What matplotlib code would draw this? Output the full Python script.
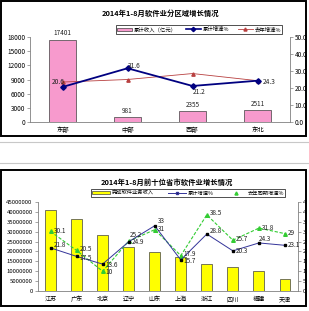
import matplotlib
matplotlib.use("Agg")
import matplotlib.pyplot as plt
from matplotlib.patches import Rectangle
from matplotlib.lines import Line2D

plt.rcParams['font.family'] = ['Noto Sans CJK SC', 'DejaVu Sans']

# ---- top chart data ----
regions = ['东部', '中部', '西部', '东北']
region_income = [17401, 981, 2355, 2511]
region_growth = [20.6, 31.6, 21.2, 24.3]
region_last_year = [23.5, 25.0, 28.5, 24.3]
top_left_ticks = [0, 3000, 6000, 9000, 12000, 15000, 18000]
top_right_ticks = [0, 10, 20, 30, 40, 50]

# ---- bottom chart data ----
provinces = ['江苏', '广东', '北京', '辽宁', '山东', '上海', '浙江', '四川', '福建', '天津']
prov_income = [40900000, 36500000, 28100000, 22300000, 19600000, 17400000,
               13700000, 12000000, 10200000, 6100000]
prov_growth = [21.8, 17.5, 13.6, 24.9, 33.0, 15.7, 28.8, 20.3, 24.3, 23.1]
prov_last_year = [30.1, 20.5, 10.0, 25.2, 31.0, 17.9, 38.5, 25.7, 31.8, 29.0]
bot_left_ticks = [0, 5000000, 10000000, 15000000, 20000000, 25000000,
                  30000000, 35000000, 40000000, 45000000]
bot_right_ticks = [0, 5, 10, 15, 20, 25, 30, 35, 40, 45]

W, H = 309, 311
fig = plt.figure(figsize=(W / 100, H / 100), dpi=100)
fig.patch.set_facecolor('white')


def rect(x0, y0, x1, y1):
    return [x0 / W, 1 - y1 / H, (x1 - x0) / W, (y1 - y0) / H]


def fx(x):
    return x / W


def fy(y):
    return 1 - y / H


def style_axes(ax, ax2, fs):
    for a in (ax, ax2):
        for s in a.spines.values():
            s.set_color('#808080')
            s.set_linewidth(0.6)
        a.spines['top'].set_visible(False)
    ax.tick_params(axis='y', length=2, width=0.5, color='#808080', pad=1.5, labelsize=fs)
    ax2.tick_params(axis='y', length=2, width=0.5, color='#808080', pad=1.5, labelsize=fs)
    ax.spines['right'].set_visible(False)
    ax2.spines['left'].set_visible(False)
    ax2.spines['bottom'].set_visible(False)
    ax.tick_params(axis='x', length=0, pad=3)
    ax2.xaxis.set_visible(False)


# ================= TOP CHART =================
ax = fig.add_axes(rect(30, 37, 290, 122))
ax2 = ax.twinx()
x = list(range(len(regions)))
ax.bar(x, region_income, width=0.41, color='#F79ACD', edgecolor='#404040', linewidth=0.5, zorder=2)
ax.set_xlim(-0.5, len(regions) - 0.5)
ax.set_ylim(0, 18000)
ax.set_yticks(top_left_ticks)
ax.set_yticklabels([str(v) for v in top_left_ticks])
ax.set_xticks(x)
ax.set_xticklabels(regions)
for xi, v in zip(x, region_income):
    ax.text(xi, v + 500, str(v), ha='center', va='bottom', fontsize=4.6, color='#222222')

ax2.set_ylim(0, 50)
ax2.set_yticks(top_right_ticks)
ax2.set_yticklabels([f'{v:.1f}' for v in top_right_ticks])
ax2.plot(x, region_last_year, color='#B84040', lw=0.6, marker='^', ms=2.4, zorder=3)
ax2.plot(x, region_growth, color='#000080', lw=1.3, marker='D', ms=2.8, zorder=4)
offs = [(-0.17, 2.8, 'left'), (0.0, 1.6, 'left'), (0.0, -3.8, 'left'), (0.08, -0.6, 'left')]
for xi, v, (dx, dy, ha) in zip(x, region_growth, offs):
    ax2.text(xi + dx, v + dy, f'{v}', fontsize=4.8, color='#222222', ha=ha, va='center', zorder=5)
style_axes(ax, ax2, 4.6)
ax.tick_params(axis='x', labelsize=4.6)

fig.text(fx(160), fy(13), '2014年1-8月软件业分区域增长情况', ha='center', va='center',
         fontsize=5.3, fontweight='bold')

h1 = Rectangle((0, 0), 1, 1, facecolor='#F79ACD', edgecolor='#404040', lw=0.5)
h2 = Line2D([], [], color='#000080', lw=1.2, marker='D', ms=2.2)
h3 = Line2D([], [], color='#B84040', lw=0.6, marker='^', ms=2.2)
leg = fig.legend([h1, h2, h3], ['累计收入（亿元）', '累计增速%', '去年增速%'],
                 loc='center', bbox_to_anchor=(fx(199), fy(29.5)), ncol=3, fontsize=3.9,
                 frameon=True, fancybox=False, edgecolor='black', borderpad=0.25,
                 handlelength=2.8, handleheight=0.6, columnspacing=1.6, handletextpad=0.3)
leg.get_frame().set_linewidth(0.6)

# ================= BOTTOM CHART =================
bx = fig.add_axes(rect(37.5, 202, 298, 291))
bx2 = bx.twinx()
xb = list(range(len(provinces)))
bx.bar(xb, prov_income, width=0.42, color='#FFFF00', edgecolor='#404040', linewidth=0.5, zorder=2)
bx.set_xlim(-0.5, len(provinces) - 0.5)
bx.set_ylim(0, 45000000)
bx.set_yticks(bot_left_ticks)
bx.set_yticklabels([str(v) for v in bot_left_ticks])
bx.set_xticks(xb)
bx.set_xticklabels(provinces)

bx2.set_ylim(0, 45)
bx2.set_yticks(bot_right_ticks)
bx2.set_yticklabels([str(v) for v in bot_right_ticks])
bx2.plot(xb, prov_growth, color='#333399', lw=0.7, marker='s', ms=1.8,
         markerfacecolor='black', markeredgecolor='black', zorder=4)
bx2.plot(xb, prov_last_year, color='#33CC33', lw=0.8, ls=(0, (3, 1.5)), marker='^', ms=2.6,
         markerfacecolor='#33CC33', markeredgecolor='#33CC33', zorder=3)

g_off = [(0.12, 1.6), (0.12, -0.6), (0.12, -0.3), (0.12, 0.0), (0.12, 2.2),
         (0.12, -0.6), (0.12, 1.5), (0.12, 0.0), (0.0, 2.0), (0.12, 0.2)]
for xi, v, (dx, dy) in zip(xb, prov_growth, g_off):
    bx2.text(xi + dx, v + dy, f'{v:g}', fontsize=4.6, color='#222222', va='center', ha='left', zorder=5)
l_off = [(0.12, 0.4), (0.12, 0.8), (0.12, -0.6), (0.05, 3.0), (0.12, 0.2),
         (0.12, 0.8), (0.12, 0.8), (0.12, 0.8), (0.12, 0.3), (0.12, 0.4)]
for xi, v, (dx, dy) in zip(xb, prov_last_year, l_off):
    bx2.text(xi + dx, v + dy, f'{v:g}', fontsize=4.6, color='#222222', va='center', ha='left', zorder=5)

style_axes(bx, bx2, 4.3)
bx.tick_params(axis='x', labelsize=4.4)

fig.text(fx(167), fy(182), '2014年1-8月前十位省市软件业增长情况', ha='center', va='center',
         fontsize=5.3, fontweight='bold')

k1 = Rectangle((0, 0), 1, 1, facecolor='#FFFF00', edgecolor='#404040', lw=0.5)
k2 = Line2D([], [], color='#333399', lw=0.7, marker='s', ms=1.6, markerfacecolor='black')
k3 = Line2D([], [], color='#33CC33', lw=0, marker='^', ms=2.2)
leg2 = fig.legend([k1, k2, k3], ['完成软件业务收入', '累计增速%', '去年同期增速%'],
                  loc='center', bbox_to_anchor=(fx(188), fy(193)), ncol=3, fontsize=3.8,
                  frameon=True, fancybox=False, edgecolor='black', borderpad=0.25,
                  handlelength=3.4, handleheight=0.6, columnspacing=2.6, handletextpad=0.4)
leg2.get_frame().set_linewidth(0.6)

# ================= frames =================
fig.patches.append(Rectangle((fx(1), fy(136)), fx(305), 135 / H, transform=fig.transFigure,
                             fill=False, edgecolor='black', lw=1.4, zorder=10))
fig.patches.append(Rectangle((fx(1), fy(306)), fx(305), 136 / H, transform=fig.transFigure,
                             fill=False, edgecolor='black', lw=1.4, zorder=10))
fig.patches.append(Rectangle((fx(306.7), 0), fx(3), 1, transform=fig.transFigure,
                             facecolor='white', edgecolor='none', zorder=9))
for yy in (142, 163):
    fig.add_artist(Line2D([0, 1], [fy(yy), fy(yy)], transform=fig.transFigure,
                          color='#C8C8C8', lw=0.8, zorder=10))

fig.savefig('out.png', dpi=100, facecolor='white')
